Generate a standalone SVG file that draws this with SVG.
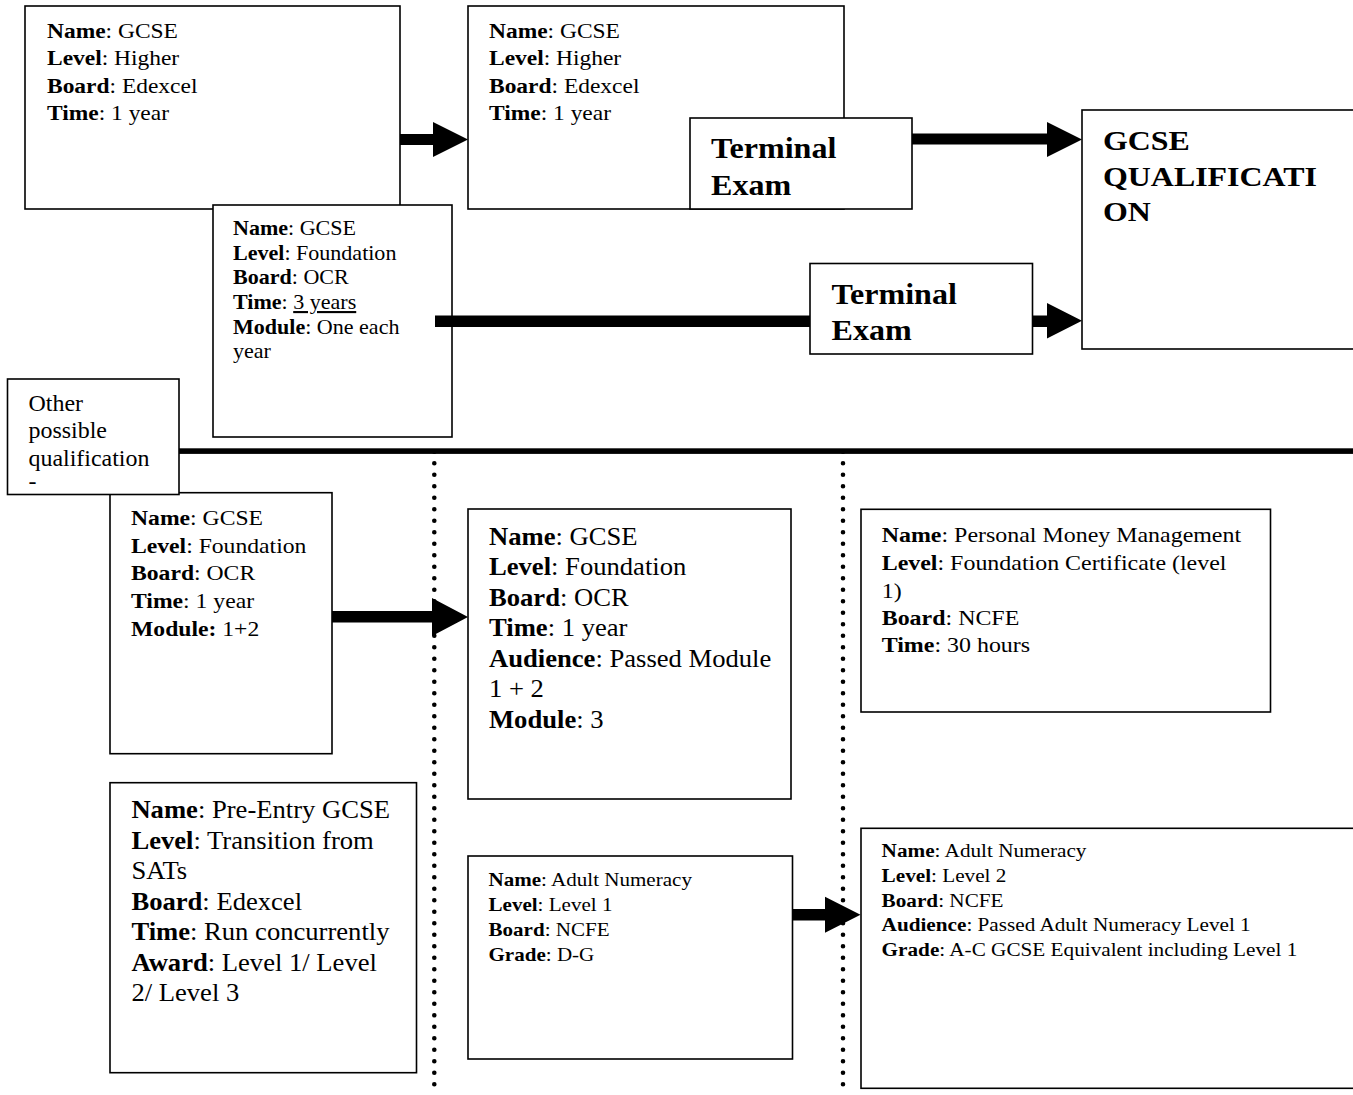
<svg xmlns="http://www.w3.org/2000/svg" width="1353" height="1095" viewBox="0 0 1353 1095">
<style>
.box{fill:#fff;stroke:#000;stroke-width:1.6}
.t{font-family:"Liberation Serif","Times New Roman",serif;fill:#000}
.b{font-weight:bold}
.u{text-decoration:underline}
.dot{fill:none;stroke:#000;stroke-width:4.6;stroke-linecap:round;stroke-dasharray:0 11.5}
.ar{fill:#000}
</style>
<rect width="1353" height="1095" fill="#fff"/>
<g id="connectors-bg">
<path class="dot" d="M434.3 451.8V1095"/>
<path class="dot" d="M843 451.8V1095"/>
<rect class="ar" x="179" y="448.3" width="1174" height="5.6"/>
</g>
<g id="n1">
<rect class="box" x="25" y="6" width="375" height="203"/>
<text class="t" transform="translate(47,0) scale(1.15,1)" font-size="20.4"><tspan x="0" y="38"><tspan class="b">Name</tspan>: GCSE</tspan><tspan x="0" y="65.5"><tspan class="b">Level</tspan>: Higher</tspan><tspan x="0" y="93"><tspan class="b">Board</tspan>: Edexcel</tspan><tspan x="0" y="120.5"><tspan class="b">Time</tspan>: 1 year</tspan></text>
</g>
<g id="n2">
<rect class="box" x="468" y="6" width="376" height="203"/>
<text class="t" transform="translate(489,0) scale(1.15,1)" font-size="20.4"><tspan x="0" y="38"><tspan class="b">Name</tspan>: GCSE</tspan><tspan x="0" y="65.5"><tspan class="b">Level</tspan>: Higher</tspan><tspan x="0" y="93"><tspan class="b">Board</tspan>: Edexcel</tspan><tspan x="0" y="120.5"><tspan class="b">Time</tspan>: 1 year</tspan></text>
</g>
<g id="n3">
<rect class="box" x="690" y="118" width="222" height="91"/>
<text class="t b" transform="translate(711,0) scale(1.07,1)" font-size="30"><tspan x="0" y="158">Terminal</tspan><tspan x="0" y="195">Exam</tspan></text>
</g>
<g id="n4">
<rect class="box" x="1082" y="110" width="290" height="239"/>
<text class="t b" transform="translate(1103,0) scale(1.14,1)" font-size="28"><tspan x="0" y="150">GCSE</tspan><tspan x="0" y="186">QUALIFICATI</tspan><tspan x="0" y="221">ON</tspan></text>
</g>
<g id="n5">
<rect class="box" x="213" y="205" width="239" height="232"/>
<text class="t" transform="translate(233,0) scale(1.05,1)" font-size="21"><tspan x="0" y="235"><tspan class="b">Name</tspan>: GCSE</tspan><tspan x="0" y="259.7"><tspan class="b">Level</tspan>: Foundation</tspan><tspan x="0" y="284.4"><tspan class="b">Board</tspan>: OCR</tspan><tspan x="0" y="309.1"><tspan class="b">Time</tspan>: <tspan class="u">3 years</tspan></tspan><tspan x="0" y="333.8"><tspan class="b">Module</tspan>: One each</tspan><tspan x="0" y="358.5">year</tspan></text>
</g>
<g id="n6">
<rect class="box" x="810" y="263.5" width="222.5" height="90.5"/>
<text class="t b" transform="translate(831.5,0) scale(1.07,1)" font-size="30"><tspan x="0" y="304">Terminal</tspan><tspan x="0" y="340.5">Exam</tspan></text>
</g>
<g id="n7">
<rect class="box" x="110" y="492.7" width="222" height="261"/>
<text class="t" transform="translate(131,0) scale(1.1,1)" font-size="21.5"><tspan x="0" y="525"><tspan class="b">Name</tspan>: GCSE</tspan><tspan x="0" y="552.7"><tspan class="b">Level</tspan>: Foundation</tspan><tspan x="0" y="580.4"><tspan class="b">Board</tspan>: OCR</tspan><tspan x="0" y="608.1"><tspan class="b">Time</tspan>: 1 year</tspan><tspan x="0" y="635.8"><tspan class="b">Module:</tspan> 1+2</tspan></text>
</g>
<g id="n8">
<rect class="box" x="7.5" y="379" width="171.5" height="115.5"/>
<text class="t" transform="translate(28.5,0) scale(1.05,1)" font-size="22.8"><tspan x="0" y="411.5">Other</tspan><tspan x="0" y="438.5">possible</tspan><tspan x="0" y="466">qualification</tspan><tspan x="0" y="489">-</tspan></text>
</g>
<g id="n9">
<rect class="box" x="468" y="509" width="323" height="290"/>
<text class="t" transform="translate(489,0) scale(1.1,1)" font-size="24.2"><tspan x="0" y="545"><tspan class="b">Name</tspan>: GCSE</tspan><tspan x="0" y="575.5"><tspan class="b">Level</tspan>: Foundation</tspan><tspan x="0" y="606"><tspan class="b">Board</tspan>: OCR</tspan><tspan x="0" y="636.5"><tspan class="b">Time</tspan>: 1 year</tspan><tspan x="0" y="667"><tspan class="b">Audience</tspan>: Passed Module</tspan><tspan x="0" y="697.5">1 + 2</tspan><tspan x="0" y="728"><tspan class="b">Module</tspan>: 3</tspan></text>
</g>
<g id="n10">
<rect class="box" x="861" y="509.3" width="409.5" height="202.7"/>
<text class="t" transform="translate(881.7,0) scale(1.14,1)" font-size="21"><tspan x="0" y="542.3"><tspan class="b">Name</tspan>: Personal Money Management</tspan><tspan x="0" y="570"><tspan class="b">Level</tspan>: Foundation Certificate (level</tspan><tspan x="0" y="597.7">1)</tspan><tspan x="0" y="625.1"><tspan class="b">Board</tspan>: NCFE</tspan><tspan x="0" y="652.5"><tspan class="b">Time</tspan>: 30 hours</tspan></text>
</g>
<g id="n11">
<rect class="box" x="110" y="782.7" width="306.5" height="290"/>
<text class="t" transform="translate(131.4,0) scale(1.1,1)" font-size="24.2"><tspan x="0" y="818.3"><tspan class="b">Name</tspan>: Pre-Entry GCSE</tspan><tspan x="0" y="849"><tspan class="b">Level</tspan>: Transition from</tspan><tspan x="0" y="879.5">SATs</tspan><tspan x="0" y="910"><tspan class="b">Board</tspan>: Edexcel</tspan><tspan x="0" y="940.5"><tspan class="b">Time</tspan>: Run concurrently</tspan><tspan x="0" y="971"><tspan class="b">Award</tspan>: Level 1/ Level</tspan><tspan x="0" y="1001.5">2/ Level 3</tspan></text>
</g>
<g id="n12">
<rect class="box" x="468" y="856" width="324.5" height="203"/>
<text class="t" transform="translate(488.5,0) scale(1.17,1)" font-size="18"><tspan x="0" y="886"><tspan class="b">Name</tspan>: Adult Numeracy</tspan><tspan x="0" y="911"><tspan class="b">Level</tspan>: Level 1</tspan><tspan x="0" y="936"><tspan class="b">Board</tspan>: NCFE</tspan><tspan x="0" y="961"><tspan class="b">Grade</tspan>: D-G</tspan></text>
</g>
<g id="n13">
<rect class="box" x="861" y="828.3" width="510" height="260"/>
<text class="t" transform="translate(881.6,0) scale(1.14,1)" font-size="18.6"><tspan x="0" y="857.3"><tspan class="b">Name</tspan>: Adult Numeracy</tspan><tspan x="0" y="882"><tspan class="b">Level</tspan>: Level 2</tspan><tspan x="0" y="906.7"><tspan class="b">Board</tspan>: NCFE</tspan><tspan x="0" y="931.4"><tspan class="b">Audience</tspan>: Passed Adult Numeracy Level 1</tspan><tspan x="0" y="956"><tspan class="b">Grade</tspan>: A-C GCSE Equivalent including Level 1</tspan></text>
</g>
<g id="connectors">
<path class="ar" d="M400 134H433V122L468 139.5L433 157V145H400Z"/>
<path class="ar" d="M912 133.5H1047V122L1082 139.5L1047 157V144.5H912Z"/>
<rect class="ar" x="435" y="315.5" width="375" height="11.5"/>
<path class="ar" d="M1032.5 315.5H1047V303L1082 320.8L1047 338.5V327H1032.5Z"/>
<path class="ar" d="M332 611H432V598L468 617L432 636V622.5H332Z"/>
<path class="ar" d="M792.5 909H825V896.7L860.5 914.7L825 932.7V920.5H792.5Z"/>
</g>
</svg>
